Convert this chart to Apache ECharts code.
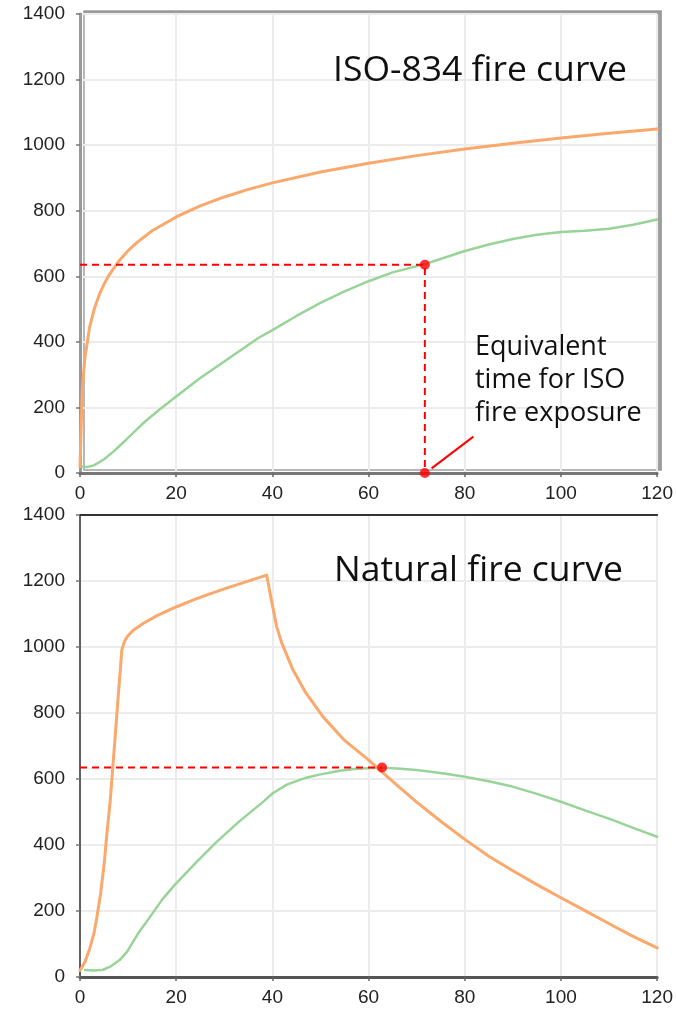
<!DOCTYPE html>
<html>
<head>
<meta charset="utf-8">
<script src="https://cdn.jsdelivr.net/npm/echarts@6/dist/echarts.min.js"></script>
<style>
  html, body { margin: 0; padding: 0; background: #fff; }
  #chart { width: 676px; height: 1009px; }
</style>
</head>
<body>
<div id="chart"></div>
<script>
// ISO-834 standard fire (gas temperature, °C) vs time (min)
const isoTime = [0, 0.5, 1, 2, 3, 4, 5, 6, 8, 10, 12, 15, 20, 25, 30, 35, 40, 50, 60, 70, 80, 90, 100, 110, 120];
const isoTemp = [20, 261, 349, 445, 502, 544, 576, 603, 645, 678, 705, 739, 781, 815, 842, 865, 885, 918, 945, 968, 988, 1006, 1022, 1036, 1049];

// Member temperature under ISO-834 exposure
const isoMemberTime = [0, 1.5, 3, 5, 7, 9.5, 13, 16.4, 20, 25, 30, 37, 40, 45, 50, 55, 60, 65, 71.7, 80, 85, 90, 95, 100, 105, 110, 115, 120];
const isoMemberTemp = [20, 18, 24, 42, 66, 100, 150, 192, 233, 290, 340, 411, 436, 479, 519, 554, 585, 612, 637, 677, 697, 714, 727, 735, 739, 745, 757, 773];

// Natural (parametric) fire: heating then decay
const natTime = [0, 1, 2, 2.9, 3.5, 4.3, 5, 5.6, 6.3, 7, 8, 8.7, 9.2, 9.8, 11, 13.2, 16, 20.1, 24, 27, 30, 34, 38.8, 39.8, 40.9, 42, 44.3, 47, 50.5, 55, 59.8, 62.3, 66, 70, 75, 80, 85, 90, 95, 100, 105, 110.7, 115, 120];
const natTemp = [20, 45, 85, 132, 180, 254, 340, 435, 536, 670, 860, 991, 1015, 1031, 1050, 1072, 1095, 1122, 1145, 1161, 1176, 1195, 1218, 1142, 1061, 1010, 930, 860, 789, 717, 660, 628, 580, 530, 472, 417, 366, 322, 280, 240, 201, 156, 123, 88];

// Member temperature under the natural fire
const natMemberTime = [1, 3, 4.8, 6.5, 8.3, 9.8, 12, 14.6, 17, 19.7, 24, 28.3, 33, 38, 40, 43, 47, 50, 54, 57, 60.9, 63, 66, 70, 75, 80, 85, 89.9, 95, 100, 105, 110.7, 115, 120];
const natMemberTemp = [21, 20, 22, 33, 52, 77, 130, 183, 233, 279, 345, 408, 470, 530, 556, 583, 604, 614, 625, 630, 633, 634, 632, 627, 618, 607, 593, 577, 555, 531, 505, 476, 452, 425];

// Equivalent-time construction
const peakMember = 635;        // max member temperature in the natural fire
const peakMemberTime = 62.8;   // time at which it occurs
const eqTime = 71.7;           // ISO exposure time giving the same member temperature
const leader = [[73.1, 14], [81.8, 111]];

const xTicks = { min: 0, max: 120, interval: 20 };
const yTicks = { min: 0, max: 1400, interval: 200 };

const pairs = (xs, ys) => xs.map((x, i) => [x, ys[i]]);

const ORANGE = '#FBA86C';
const GREEN = '#98D498';
const RED = '#FF0000';
const labelFont = { color: '#222', fontSize: 19, fontFamily: 'Liberation Sans, Arial, sans-serif' };
const gridLine = { show: true, lineStyle: { color: '#ececec', width: 2 } };
const plain = v => String(v);

function xAxisFor(gi, lineColor) {
  return {
    type: 'value', gridIndex: gi, ...xTicks,
    axisLine: { show: true, onZero: false, lineStyle: { color: lineColor, width: 3 } },
    axisTick: { show: true, length: 4, lineStyle: { color: '#666', width: 1.5 } },
    axisLabel: { ...labelFont, margin: 11, formatter: plain },
    splitLine: gridLine
  };
}
function yAxisFor(gi, lineColor, w) {
  return {
    type: 'value', gridIndex: gi, ...yTicks,
    axisLine: { show: true, lineStyle: { color: lineColor, width: w } },
    axisTick: { show: true, length: 4, lineStyle: { color: '#777', width: 1.5 } },
    axisLabel: { ...labelFont, margin: 15, formatter: plain },
    splitLine: gridLine
  };
}

const curve = (xi, yi, data, color, width) => ({
  type: 'line', xAxisIndex: xi, yAxisIndex: yi, data,
  showSymbol: false, symbol: 'none', smooth: false,
  lineStyle: { color, width, join: 'round', cap: 'round' }, z: 3
});

const titleFont = '35.5px "Open Sans", sans-serif';
const noteFont = '27px "Open Sans", sans-serif';

const chart = echarts.init(document.getElementById('chart'), null, { renderer: 'canvas' });
chart.setOption({
  animation: false,
  backgroundColor: '#fff',
  grid: [
    { left: 80, right: 18, top: 14, height: 459, show: true, backgroundColor: '#fff',
      borderColor: '#666', borderWidth: 1.5,
      shadowColor: 'rgba(150,150,150,0.9)', shadowBlur: 0, shadowOffsetX: 4, shadowOffsetY: -3 },
    { left: 80, right: 18, top: 515, height: 462, show: true, backgroundColor: '#fff',
      borderColor: '#999', borderWidth: 1.5 }
  ],
  xAxis: [
    xAxisFor(0, '#777'),
    xAxisFor(1, '#555'),
    { type: 'value', gridIndex: 1, position: 'top', ...xTicks,
      axisLine: { show: true, onZero: false, lineStyle: { color: '#333', width: 2 } },
      axisTick: { show: false }, axisLabel: { show: false }, splitLine: { show: false } }
  ],
  yAxis: [
    yAxisFor(0, '#999', 3),
    yAxisFor(1, '#333', 1.5)
  ],
  series: [
    curve(0, 0, pairs(isoMemberTime, isoMemberTemp), GREEN, 2.5),
    curve(0, 0, pairs(isoTime, isoTemp), ORANGE, 3),
    { type: 'line', xAxisIndex: 0, yAxisIndex: 0, symbol: 'none', z: 4,
      data: [[0, peakMember], [eqTime, peakMember], [eqTime, 0]],
      lineStyle: { color: RED, width: 2, type: [7, 5] } },
    { type: 'line', xAxisIndex: 0, yAxisIndex: 0, symbol: 'none', z: 4,
      data: leader, lineStyle: { color: RED, width: 2 } },
    { type: 'scatter', xAxisIndex: 0, yAxisIndex: 0, symbolSize: 10, z: 5, clip: false,
      data: [[eqTime, peakMember], [eqTime, 0]], itemStyle: { color: RED } },

    curve(1, 1, pairs(natMemberTime, natMemberTemp), GREEN, 2.5),
    curve(1, 1, pairs(natTime, natTemp), ORANGE, 3),
    { type: 'line', xAxisIndex: 1, yAxisIndex: 1, symbol: 'none', z: 4,
      data: [[0, peakMember], [peakMemberTime, peakMember]],
      lineStyle: { color: RED, width: 2, type: [7, 5] } },
    { type: 'scatter', xAxisIndex: 1, yAxisIndex: 1, symbolSize: 10, z: 5, clip: false,
      data: [[peakMemberTime, peakMember]], itemStyle: { color: RED } }
  ],
  graphic: [
    { type: 'text', left: 333, top: 53, z: 10,
      style: { text: 'ISO-834 fire curve', font: titleFont, fill: '#111' } },
    { type: 'text', left: 334, top: 553, z: 10,
      style: { text: 'Natural fire curve', font: titleFont, fill: '#111' } },
    { type: 'text', left: 475, top: 331, z: 10,
      style: { text: 'Equivalent\ntime for ISO\nfire exposure', font: noteFont,
               lineHeight: 33, fill: '#111' } }
  ]
});
</script>
</body>
</html>
